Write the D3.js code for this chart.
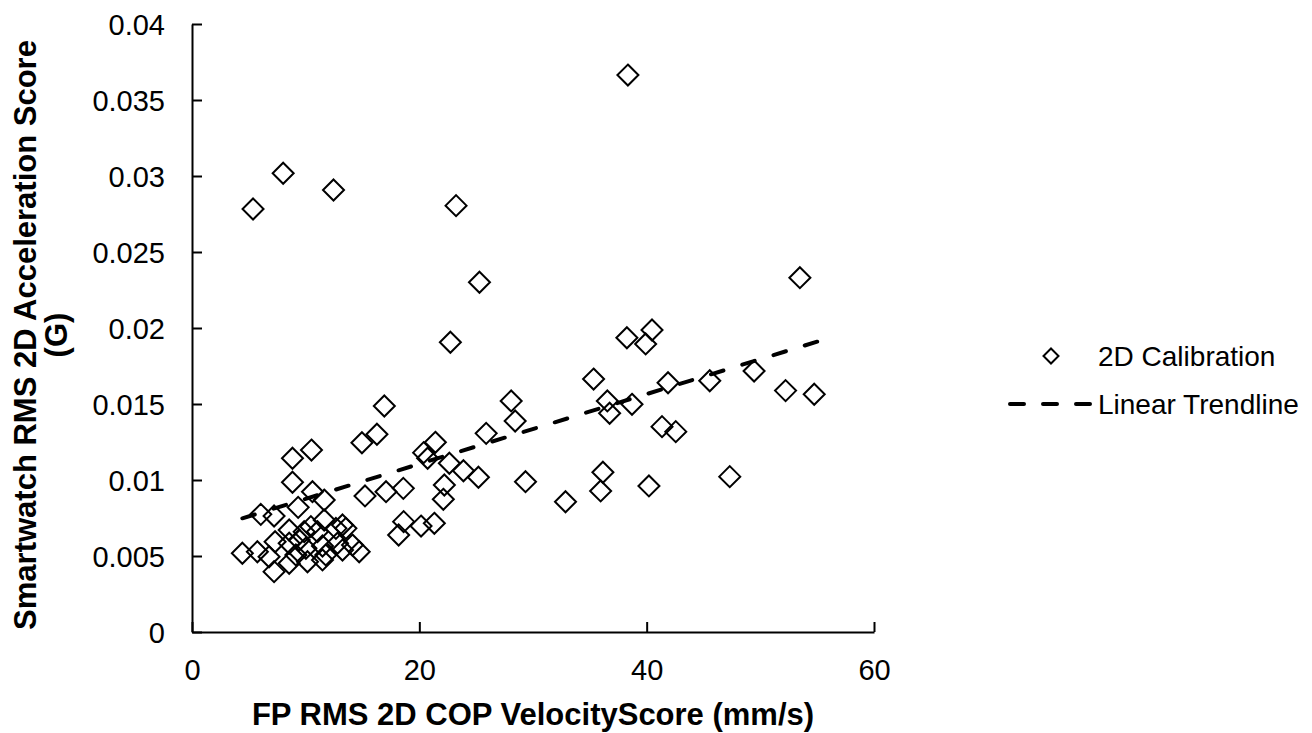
<!DOCTYPE html>
<html>
<head>
<meta charset="utf-8">
<script src="https://cdn.jsdelivr.net/npm/d3@7"></script>
<style>
    body { margin: 0; background: #fff; }
    svg { display: block; font-family: "Liberation Sans", Arial, sans-serif; }
</style>
</head>
<body>
<script>
(function(){

    //scatter data (FP velocity mm/s, smartwatch accel G)
    var xValues = [
        8.84, 10.51, 8.84, 14.95, 16.27, 10.60, 11.63, 15.22, 6.05, 7.22,
        9.34, 11.63, 10.46, 8.55, 9.87, 11.04, 12.66, 13.54, 4.43, 5.75,
        6.78, 7.31, 8.55, 9.43, 10.02, 11.48, 12.80, 13.24, 14.71, 14.12,
        7.22, 8.55, 9.14, 10.16, 11.48, 13.24, 11.77,
        22.73, 16.92, 28.08, 28.43, 35.33, 36.54, 36.74, 38.71, 25.88, 21.41,
        20.38, 20.73, 22.64, 23.88, 25.20, 17.07, 18.59, 22.20, 22.11, 29.34,
        32.86, 36.15, 35.95, 18.62, 20.15, 21.32, 18.18,
        38.26, 40.47, 39.91, 41.88, 45.55, 49.45, 52.22, 54.74, 41.35, 42.56,
        40.20, 47.31,
        5.37, 8.02, 12.45, 23.23, 25.29, 38.35, 53.48
    ];
    var yValues = [
        0.01143, 0.01197, 0.00985, 0.01245, 0.01301, 0.00923, 0.00868, 0.00895, 0.00774, 0.00763,
        0.00820, 0.00737, 0.00693, 0.00671, 0.00660, 0.00660, 0.00682, 0.00682, 0.00518, 0.00528,
        0.00495, 0.00594, 0.00584, 0.00605, 0.00551, 0.00566, 0.00584, 0.00539, 0.00528, 0.00572,
        0.00397, 0.00452, 0.00507, 0.00462, 0.00474, 0.00704, 0.00507,
        0.01906, 0.01487, 0.01520, 0.01388, 0.01664, 0.01520, 0.01439, 0.01498, 0.01307, 0.01248,
        0.01180, 0.01143, 0.01110, 0.01061, 0.01018, 0.00923, 0.00945, 0.00967, 0.00873, 0.00989,
        0.00857, 0.01051, 0.00928, 0.00726, 0.00697, 0.00715, 0.00638,
        0.01936, 0.01987, 0.01895, 0.01640, 0.01653, 0.01717, 0.01588, 0.01564, 0.01351, 0.01318,
        0.00961, 0.01022,
        0.02783, 0.03018, 0.02908, 0.02805, 0.02301, 0.03664, 0.02331
    ];

    //linear trendline end points
    var trendX = [4.43, 55.0];
    var trendY = [0.00748, 0.01910];

    //tick values and labels
    var xTicks = [0, 20, 40, 60];
    var yTicks = [0, 0.005, 0.01, 0.015, 0.02, 0.025, 0.03, 0.035, 0.04];
    var yTickLabels = ["0", "0.005", "0.01", "0.015", "0.02", "0.025", "0.03", "0.035", "0.04"];

    var legendNames = ["2D Calibration", "Linear Trendline"];

    var width = 1312, height = 733;

    var svg = d3.select("body")
        .append("svg")
        .attr("width", width)
        .attr("height", height);

    //scales
    var x = d3.scaleLinear().domain([0, 60]).range([192, 874]);
    var y = d3.scaleLinear().domain([0, 0.04]).range([632, 24]);

    //y axis
    var yAxis = svg.append("g")
        .attr("transform", "translate(" + x(0) + ",0)")
        .call(d3.axisLeft(y)
            .tickValues(yTicks)
            .tickSizeInner(-10)
            .tickSizeOuter(0)
            .tickPadding(27)
            .tickFormat(function(d, i){ return yTickLabels[i]; }));

    //x axis
    var xAxis = svg.append("g")
        .attr("transform", "translate(0," + y(0) + ")")
        .call(d3.axisBottom(x)
            .tickValues(xTicks)
            .tickSizeInner(-10)
            .tickSizeOuter(0)
            .tickPadding(27)
            .tickFormat(d3.format("d")));

    [yAxis, xAxis].forEach(function(ax){
        ax.select(".domain").attr("stroke", "#000").attr("stroke-width", 2);
        ax.selectAll(".tick line").attr("stroke", "#000").attr("stroke-width", 2);
        ax.selectAll(".tick text")
            .attr("fill", "#000")
            .style("font-size", "29px")
            .style("font-family", "'Liberation Sans', Arial, sans-serif");
    });
    yAxis.selectAll(".tick text").attr("dy", "0.35em");

    //axis titles
    svg.append("text")
        .attr("x", (x(0) + x(60)) / 2)
        .attr("y", 725)
        .attr("text-anchor", "middle")
        .style("font-size", "31px")
        .style("font-weight", "bold")
        .text("FP RMS 2D COP VelocityScore (mm/s)");

    var yTitle = svg.append("text")
        .attr("transform", "translate(36,335) rotate(-90)")
        .attr("text-anchor", "middle")
        .style("font-size", "31px")
        .style("font-weight", "bold");
    yTitle.append("tspan").attr("x", 0).attr("y", 0).text("Smartwatch RMS 2D Acceleration Score");
    yTitle.append("tspan").attr("x", 0).attr("y", 31).text("(G)");

    //diamond marker path
    function diamond(r){
        return "M0," + (-r) + "L" + r + ",0L0," + r + "L" + (-r) + ",0Z";
    }

    //points
    svg.append("g")
        .selectAll("path")
        .data(xValues.map(function(v, i){ return [v, yValues[i]]; }))
        .enter()
        .append("path")
        .attr("d", diamond(10.5))
        .attr("transform", function(d){ return "translate(" + x(d[0]) + "," + y(d[1]) + ")"; })
        .attr("fill", "none")
        .attr("stroke", "#000")
        .attr("stroke-width", 2);

    //trendline, dash pattern fitted so it starts and ends on a dash
    var line = d3.line()
        .x(function(d){ return x(d[0]); })
        .y(function(d){ return y(d[1]); });

    var trend = svg.append("path")
        .datum(trendX.map(function(v, i){ return [v, trendY[i]]; }))
        .attr("d", line)
        .attr("fill", "none")
        .attr("stroke", "#000")
        .attr("stroke-width", 4)
        .attr("stroke-linecap", "round");

    var len = trend.node().getTotalLength(),
        dash = 13,
        n = Math.round((len - dash) / 32),
        gap = (len - dash) / n - dash;
    trend.attr("stroke-dasharray", dash + "," + gap);

    //legend
    var legend = svg.append("g");
    legend.append("path")
        .attr("d", diamond(7.5))
        .attr("transform", "translate(1051,356)")
        .attr("fill", "none")
        .attr("stroke", "#000")
        .attr("stroke-width", 2);
    legend.append("line")
        .attr("x1", 1010).attr("x2", 1090)
        .attr("y1", 404).attr("y2", 404)
        .attr("stroke", "#000")
        .attr("stroke-width", 4)
        .attr("stroke-linecap", "round")
        .attr("stroke-dasharray", "14,19");
    legend.selectAll("text")
        .data(legendNames)
        .enter()
        .append("text")
        .attr("x", 1098)
        .attr("y", function(d, i){ return 356 + i * 48; })
        .attr("dy", "0.35em")
        .style("font-size", "28px")
        .text(function(d){ return d; });

})();
</script>
</body>
</html>
